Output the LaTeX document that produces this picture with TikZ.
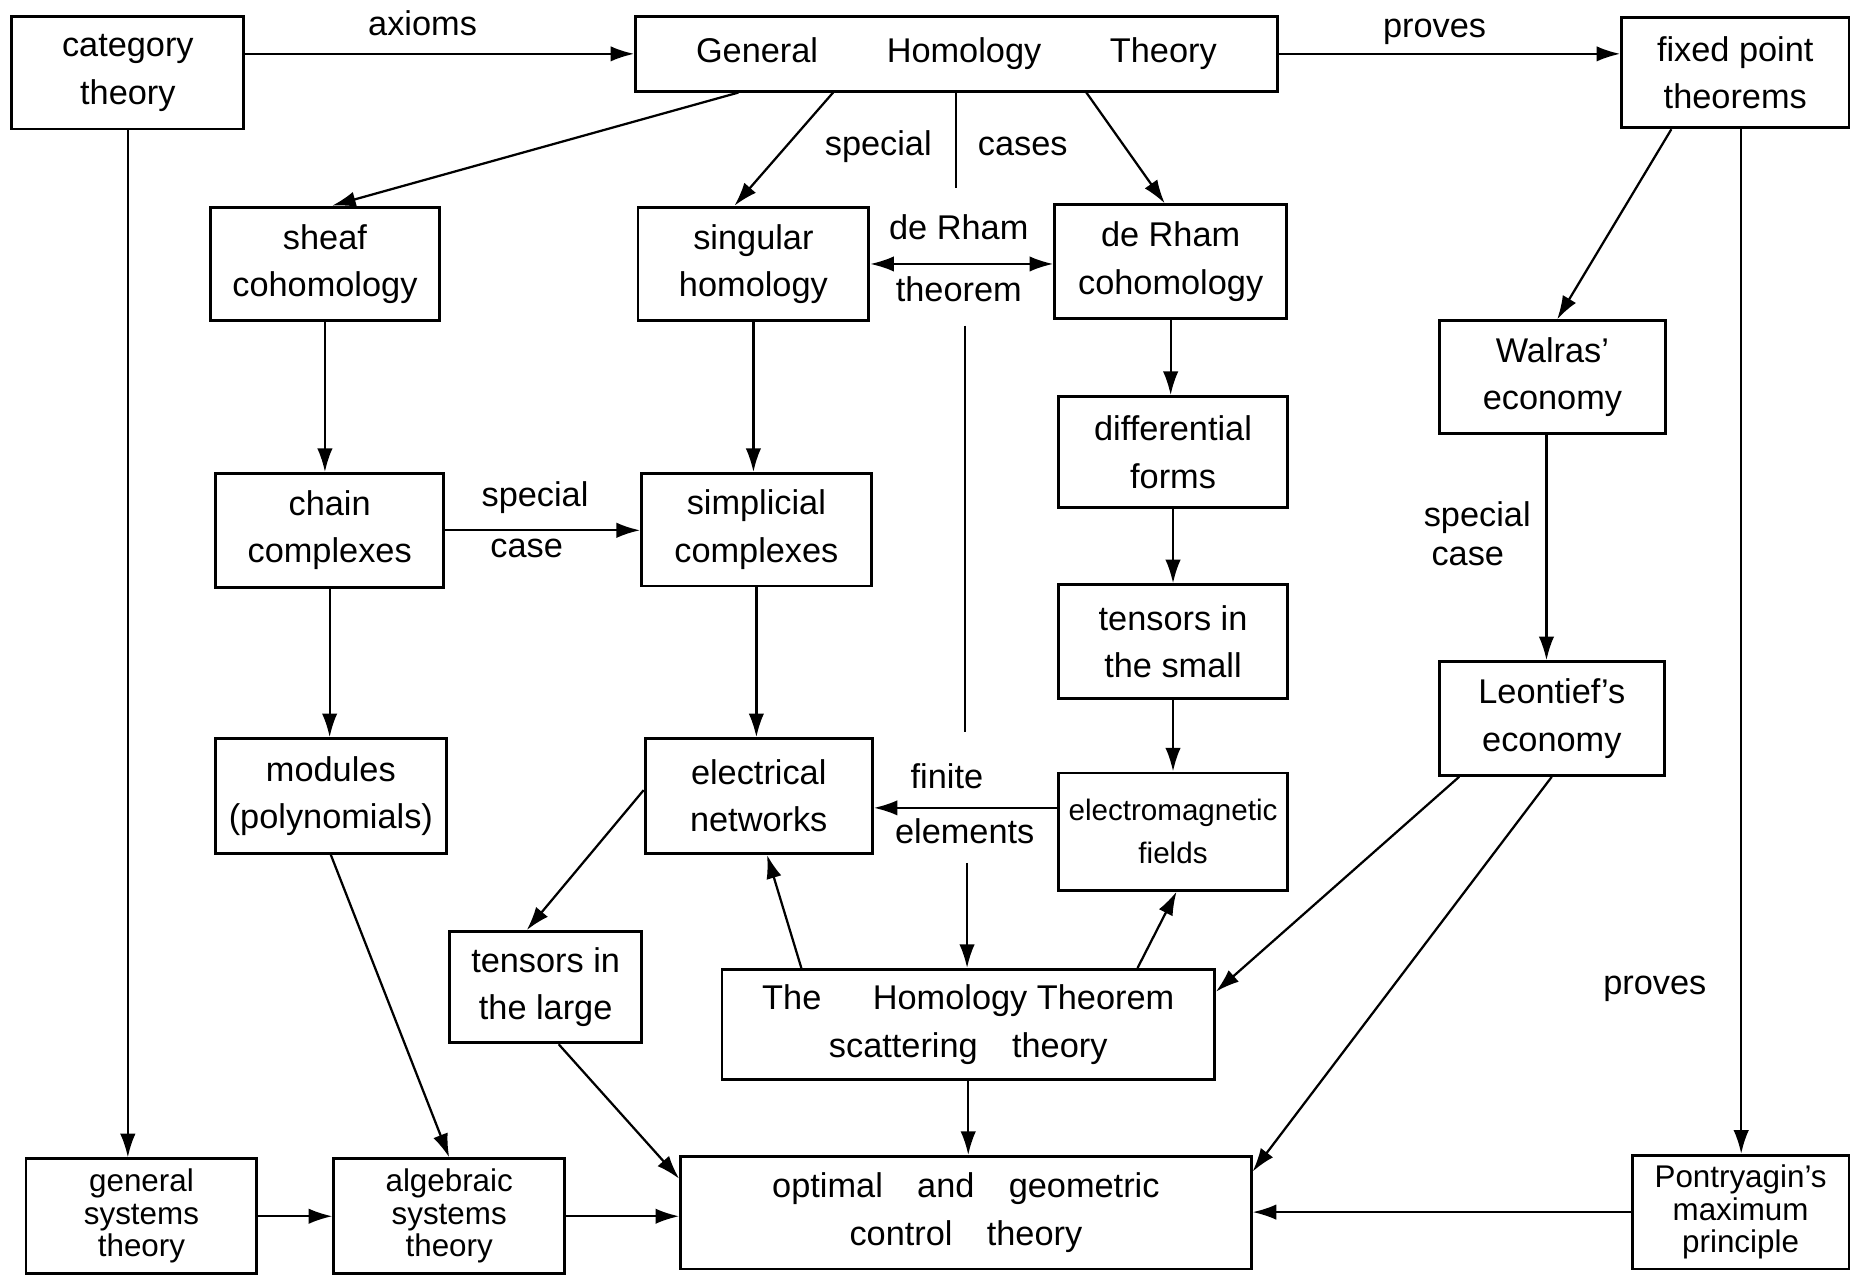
\documentclass[tikz,border=0pt]{standalone}
\usepackage{fontspec}
\setmainfont{Liberation Sans}
\usetikzlibrary{arrows.meta,calc}
\begin{document}
\begin{tikzpicture}[x=1pt,y=-1pt,
  box/.style={draw, line width=2.4pt, align=center, inner sep=2pt, font=\fontsize{29}{40}\selectfont},
  box3/.style={box, font=\fontsize{26.5}{27.5}\selectfont},
  sz/.style 2 args={minimum width=#1pt, minimum height=#2pt},
  lbl/.style={font=\fontsize{29}{34}\selectfont, inner sep=1pt},
  arr/.style={line width=1.9pt, -{Latex[length=20pt,width=13pt]}},
  darr/.style={line width=1.9pt, {Latex[length=20pt,width=13pt]}-{Latex[length=20pt,width=13pt]}},
  ln/.style={line width=1.9pt},
]
\fill[white] (0,0) rectangle (1568,1080);
\useasboundingbox (0,0) rectangle (1568,1080);

% boxes
\node[box, sz={196}{95}] (cat) at (108,61.5) {category\\theory};
\node[box, sz={542}{63}] (ght) at (808,45.5) {General\hspace{2em}Homology\hspace{2em}Theory};
\node[box, sz={192}{93}] (fix) at (1466,61.5) {fixed point\\theorems};
\node[box, sz={193}{96}] (sheaf) at (274.5,223) {sheaf\\cohomology};
\node[box, sz={195}{96}] (sing) at (636.5,223) {singular\\homology};
\node[box, sz={196}{96}] (drc) at (989,221) {de Rham\\cohomology};
\node[box, sz={191}{95}] (walras) at (1311.5,318.5) {Walras'\\economy};
\node[box, sz={193}{96}] (chain) at (278.5,448) {chain\\complexes};
\node[box, sz={194}{95}] (simp) at (639,447.5) {simplicial\\complexes};
\node[box, sz={194}{94}] (diff) at (991,382) {differential\\forms};
\node[box, sz={194}{96}] (tsmall) at (991,542) {tensors in\\the small};
\node[box, sz={190}{96}] (leon) at (1311,607) {Leontief's\\economy};
\node[box, sz={195}{97}] (mod) at (279.5,672.5) {modules\\(polynomials)};
\node[box, sz={192}{97}] (elec) at (641,672.5) {electrical\\networks};
\node[box, sz={194}{99}, font=\fontsize{25}{36}\selectfont] (emf) at (991,702.5) {electromagnetic\\fields};
\node[box, sz={162}{94}] (tlarge) at (461,834) {tensors in\\the large};
\node[box, sz={416}{93}] (hthm) at (818,865.5) {The\hspace{1.5em}Homology Theorem\\scattering\hspace{1em}theory};
\node[box3, sz={195}{97}] (gsys) at (119.5,1027.5) {general\\systems\\theory};
\node[box3, sz={195}{97}] (asys) at (379.5,1027.5) {algebraic\\systems\\theory};
\node[box, sz={482}{95}] (opt) at (816,1024.5) {optimal\hspace{1em}and\hspace{1em}geometric\\control\hspace{1em}theory};
\node[box3, sz={183}{96}] (pont) at (1470.5,1024) {Pontryagin's\\maximum\\principle};

% connectors
\draw[arr] (cat.east |- ght.west) -- (ght.west);
\node[lbl] (laxioms) at (357,20) {axioms};
\draw[arr] (ght.east) -- (fix.west |- ght.east);
\node[lbl] (lproves1) at (1212,27) {proves};

\draw[arr] ([xshift=88pt]ght.south west) -- ([xshift=6pt]sheaf.north);
\draw[arr] ([xshift=168pt]ght.south west) -- ([xshift=-16pt]sing.north);
\draw[arr] ([xshift=382pt]ght.south west) -- ([xshift=-5pt]drc.north);
\coordinate (sc) at ([xshift=272pt]ght.south west);
\coordinate (scend) at ($(sc)+(0,81)$);
\draw[ln] (sc) -- (scend);
\node[lbl] (lspecial1) at (742,124) {special};
\node[lbl] (lcases) at (864,124) {cases};

\draw[darr] (sing.east) -- (drc.west |- sing.east);
\node[lbl] (lderham) at (810,192) {de Rham};
\node[lbl] (ltheorem) at (810,244) {theorem};
\coordinate (v1) at (815,275);
\coordinate (v2) at (815,618);
\draw[ln] (v1) -- (v2);
\coordinate (v3) at (817,729);
\draw[arr] (v3) -- (v3 |- hthm.north);

\draw[arr] (sheaf.south) -- (sheaf.south |- chain.north);
\draw[arr] (sing.south) -- (sing.south |- simp.north);
\draw[arr] (drc.south) -- (drc.south |- diff.north);
\draw[arr] (diff.south) -- (tsmall.north);
\draw[arr] (tsmall.south) -- (emf.north);

\draw[arr] (chain.east) -- (simp.west |- chain.east);
\node[lbl] (lspecial2) at (452,420) {special};
\node[lbl] (lcase2) at (445,463) {case};
\draw[arr] (chain.south) -- (chain.south |- mod.north);
\draw[arr] (simp.south) -- (simp.south |- elec.north);

\draw[arr] ([yshift=20pt]emf.west) -- ([yshift=20pt]emf.west -| elec.east);
\node[lbl] (lfinite) at (800,656) {finite};
\node[lbl] (lelements) at (815,702) {elements};

\draw[arr] ([yshift=5pt]elec.west) -- ([xshift=-16pt]tlarge.north);
\draw[arr] (mod.south) -- (asys.north);
\draw[arr] (cat.south) -- (cat.south |- gsys.north);
\draw[arr] (gsys.east) -- (asys.west);
\draw[arr] (asys.east) -- (opt.west |- asys.east);
\draw[arr] ([xshift=11pt]tlarge.south) -- ([yshift=-20pt]opt.north west);

\draw[arr] ([xshift=-141pt]hthm.north) -- ([xshift=7pt]elec.south);
\draw[arr] ([xshift=143pt]hthm.north) -- ([xshift=3pt]emf.south);
\draw[arr] (hthm.south) -- (hthm.south |- opt.north);

\draw[arr] ([xshift=18pt]leon.south west) -- ([yshift=-20pt]hthm.north east);
\draw[arr] (leon.south) -- ([yshift=-14pt]opt.north east);

\draw[arr] ([xshift=-54pt]fix.south) -- ([xshift=4pt]walras.north);
\draw[arr] ([xshift=5pt]fix.south) -- ([xshift=5pt]fix.south |- pont.north);
\node[lbl] (lproves2) at (1398,835) {proves};
\draw[arr] ([xshift=-5pt]walras.south) -- ([xshift=-5pt]walras.south |- leon.north);
\node[lbl] (lspecial3) at (1248,437) {special};
\node[lbl] (lcase3) at (1240,470) {case};
\draw[arr] (pont.west) -- (pont.west -| opt.east);
\end{tikzpicture}
\end{document}
